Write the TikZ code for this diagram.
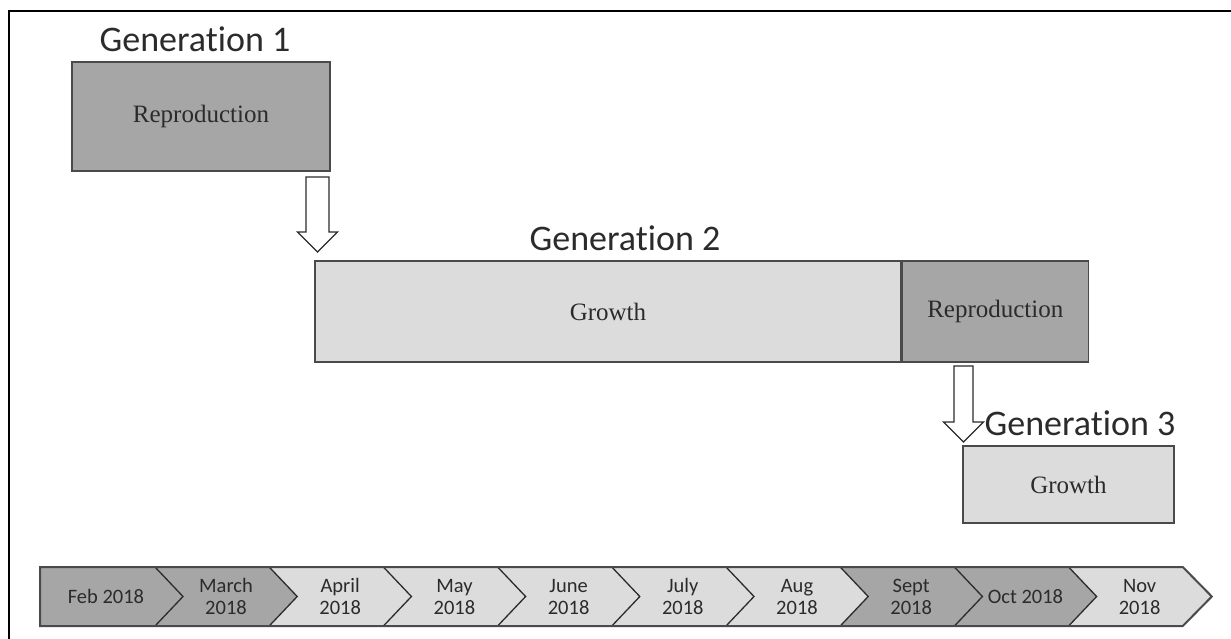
\documentclass[tikz,border=0pt]{standalone}
\usepackage{fontspec}
\setmainfont{Liberation Serif}
\newfontfamily\calibri[Ligatures=NoCommon]{Carlito}
\usetikzlibrary{positioning,calc}
\definecolor{ink}{HTML}{2B2B2B}
\definecolor{edge}{HTML}{4A4A4A}
\definecolor{darkfill}{HTML}{A6A6A6}
\definecolor{lightfill}{HTML}{DCDCDC}

\begin{document}
\begin{tikzpicture}[x=1pt,y=-1pt,line width=1.3pt,every node/.style={text=ink},
  phase/.style={draw=edge,inner sep=0pt,font=\fontsize{25}{30}\selectfont},
  gen/.style={font=\calibri\fontsize{36}{42}\selectfont,inner sep=0pt},
  month/.style={font=\calibri\fontsize{20.5}{22}\selectfont,align=center,inner sep=0pt},
  hollow/.style={draw=ink,fill=white,line width=1.2pt,line join=miter}]
\path[use as bounding box] (0,0) rectangle (1231,638);
\draw[line width=2.2pt] (9,645)--(9,11)--(1240,11);

% generations
\node[phase,fill=darkfill,minimum width=258pt,minimum height=109pt] (repro1) at (201,116.5) {Reproduction};
\node[phase,fill=lightfill,minimum width=586pt,minimum height=101pt] (grow2) at (608,311.5) {Growth};
\node[phase,fill=darkfill,minimum width=186pt,minimum height=101pt,anchor=west] (repro2) at (grow2.east) {Reproduction};
\node[phase,fill=lightfill,minimum width=211pt,minimum height=77pt] (grow3) at (1068.5,484.5) {Growth};
\node[gen] (gen1) at (195,39) {Generation 1};
\node[gen] (gen2) at (625,238) {Generation 2};
\node[gen] (gen3) at (1080,423) {Generation 3};

% hand-over arrows
\draw[hollow] (306,177)--(329,177)--(329,232)--(337.5,232)--(317.5,252)--(297.5,232)--(306,232)--cycle;
\draw[hollow] (954,366)--(973,366)--(973,422)--(983.5,422)--(963.5,442)--(943.5,422)--(954,422)--cycle;

% timeline
\fill[darkfill] (40,567)--(155,567)--(183,596.5)--(155,626)--(40,626)--cycle;
\foreach \i/\c in {1/darkfill,2/lightfill,3/lightfill,4/lightfill,5/lightfill,6/lightfill,7/darkfill,8/darkfill,9/lightfill} {
  \pgfmathsetmacro\l{155+114.2*(\i-1)}
  \pgfmathsetmacro\r{155+114.2*\i}
  \fill[\c] (\l,567)--(\r,567)--(\r+29,596.5)--(\r,626)--(\l,626)--(\l+28,596.5)--cycle;
}
\foreach \i in {0,...,8} {
  \pgfmathsetmacro\r{155+114.2*\i}
  \draw[ink] (\r,567)--(\r+28,596.5)--(\r,626);
}
\draw[edge,line width=2pt,line join=miter] (40,567)--(1182.8,567)--(1211.8,596.5)--(1182.8,626)--(40,626)--cycle;
\node[month] (m1) at (106,596.5) {Feb 2018};
\foreach \i/\t in {2/March\\2018,3/April\\2018,4/May\\2018,5/June\\2018,6/July\\2018,7/Aug\\2018,8/Sept\\2018,9/Oct 2018,10/Nov\\2018}
  \node[month] (m\i) at (155+114.2*\i-114.2*2+71,596.5) {\t};

\end{tikzpicture}
\end{document}
